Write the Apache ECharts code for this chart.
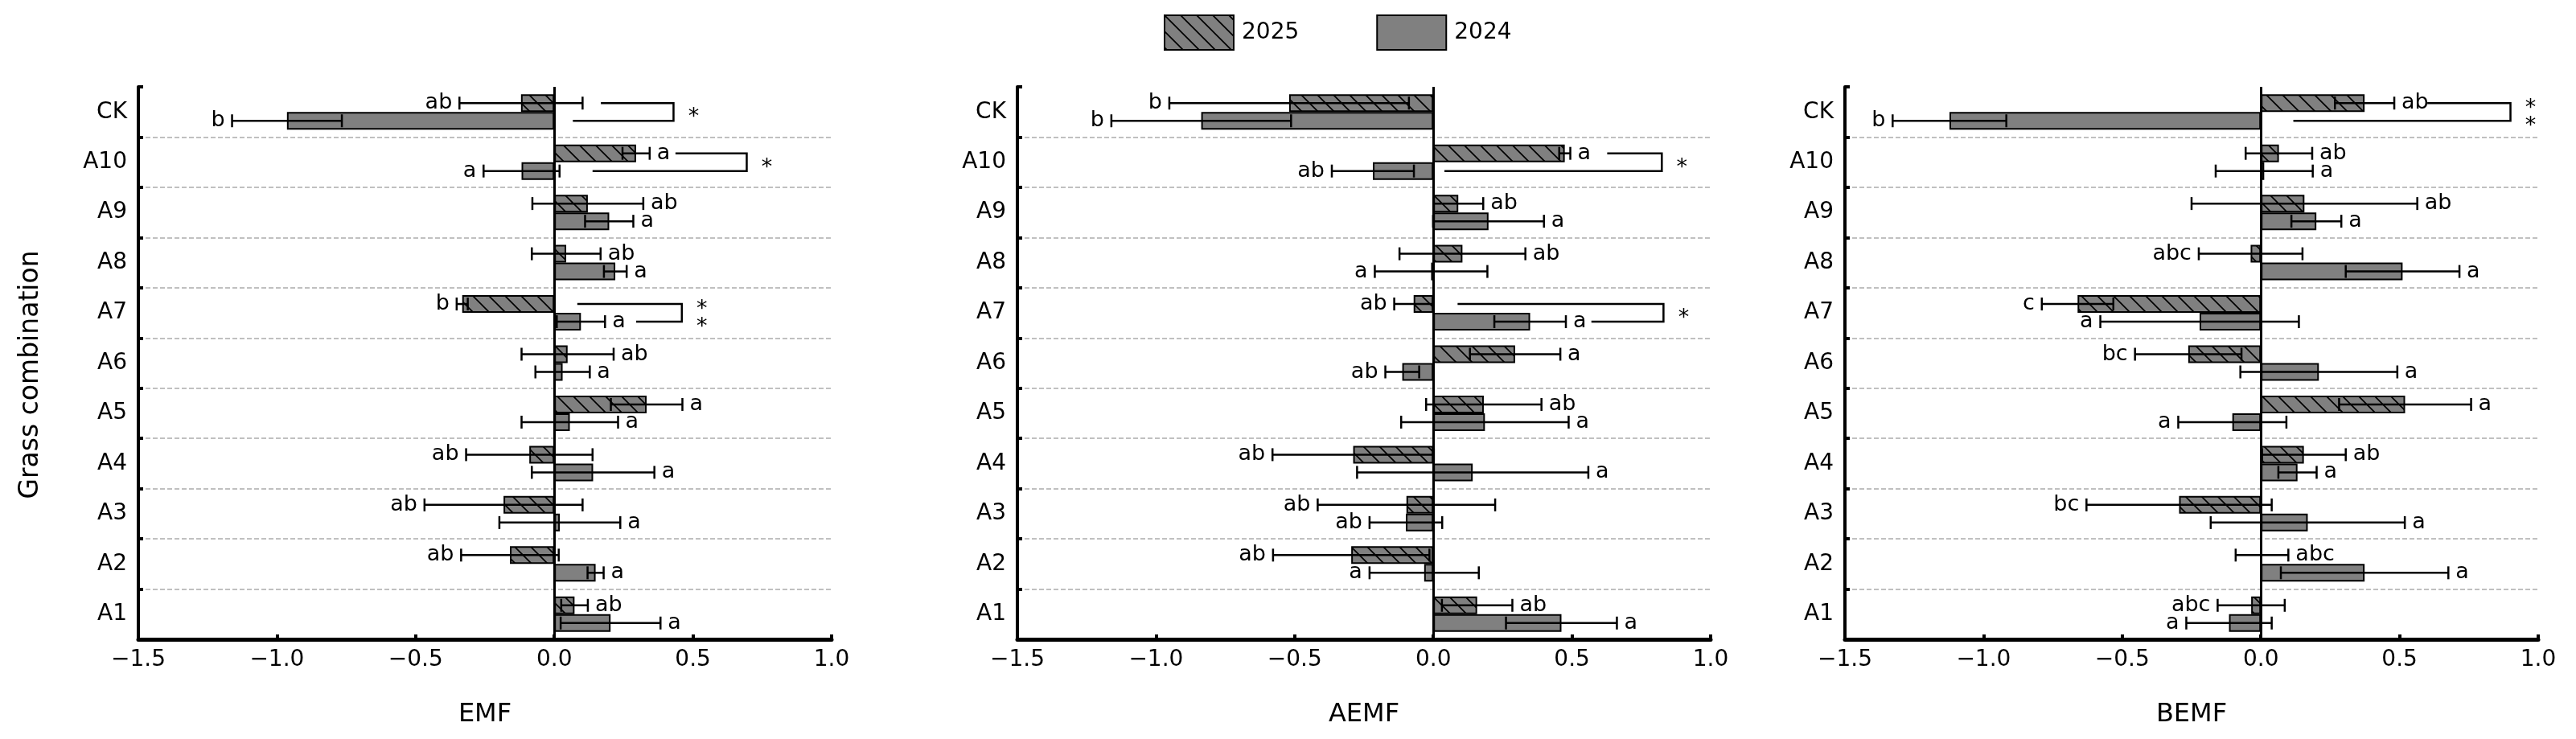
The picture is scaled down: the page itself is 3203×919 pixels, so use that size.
<!DOCTYPE html>
<html>
<head>
<meta charset="utf-8">
<script src="https://cdn.jsdelivr.net/npm/echarts@6/dist/echarts.min.js"></script>
<style>
html,body{margin:0;padding:0;background:#fff;}
#main{width:3203px;height:919px;}
</style>
</head>
<body>
<div id="main"></div>
<script>
// categories, top to bottom
var categories = ['CK','A10','A9','A8','A7','A6','A5','A4','A3','A2','A1'];
var years = ['2025','2024'];
var axisNames = ['EMF','AEMF','BEMF'];
var xMin = -1.5, xMax = 1.0, xStep = 0.5;

// EMF
var emf2025    = [-0.12, 0.295, 0.121, 0.043, -0.332, 0.048, 0.333, -0.09, -0.183, -0.16, 0.073];
var emf2025Err = [0.222, 0.049, 0.2, 0.124, 0.02, 0.166, 0.129, 0.228, 0.285, 0.176, 0.048];
var emf2025Sig = ['ab','a','ab','ab','b','ab','a','ab','ab','ab','ab'];
var emf2024    = [-0.964, -0.118, 0.198, 0.22, 0.096, 0.03, 0.056, 0.14, 0.02, 0.149, 0.203];
var emf2024Err = [0.198, 0.137, 0.087, 0.041, 0.087, 0.098, 0.174, 0.221, 0.218, 0.029, 0.18];
var emf2024Sig = ['b','a','a','a','a','a','a','a','a','a','a'];
// [category, start of upper arm, start of lower arm, right side, mark]
var emfBrackets = [['CK',0.168,0.067,0.43,'*'],['A10',0.437,0.138,0.694,'*'],['A7',0.083,0.295,0.46,'**']];

// AEMF
var aemf2025    = [-0.52, 0.474, 0.09, 0.105, -0.071, 0.295, 0.182, -0.289, -0.097, -0.296, 0.158];
var aemf2025Err = [0.432, 0.02, 0.09, 0.227, 0.07, 0.163, 0.208, 0.291, 0.32, 0.282, 0.127];
var aemf2025Sig = ['b','a','ab','ab','ab','a','ab','ab','ab','ab','ab'];
var aemf2024    = [-0.837, -0.218, 0.199, -0.008, 0.349, -0.112, 0.186, 0.142, -0.099, -0.033, 0.462];
var aemf2024Err = [0.324, 0.148, 0.2, 0.203, 0.129, 0.061, 0.302, 0.417, 0.131, 0.197, 0.2];
var aemf2024Sig = ['b','ab','a','a','a','ab','a','a','ab','a','a'];
var aemfBrackets = [['A10',0.627,0.04,0.824,'*'],['A7',0.0875,0.57,0.83,'*']];

// BEMF
var bemf2025    = [0.374, 0.065, 0.157, -0.037, -0.661, -0.262, 0.52, 0.155, -0.295, 0.004, -0.035];
var bemf2025Err = [0.107, 0.12, 0.407, 0.187, 0.129, 0.192, 0.238, 0.151, 0.334, 0.095, 0.121];
var bemf2025Sig = ['ab','ab','ab','abc','c','bc','a','ab','bc','abc','abc'];
var bemf2024    = [-1.123, 0.012, 0.2, 0.511, -0.221, 0.209, -0.103, 0.132, 0.169, 0.374, -0.115];
var bemf2024Err = [0.205, 0.175, 0.09, 0.205, 0.358, 0.283, 0.195, 0.069, 0.35, 0.302, 0.154];
var bemf2024Sig = ['b','a','a','a','a','a','a','a','a','a','a'];
var bemfBrackets = [['CK',0.60,0.117,0.90,'**']];

var FONT = 'DejaVu Sans';
var GRAY = '#808080';
var BAR_W = 22;

var panels = [
	{left:172,  v25:emf2025,  e25:emf2025Err,  s25:emf2025Sig,  v24:emf2024,  e24:emf2024Err,  s24:emf2024Sig,  br:emfBrackets},
	{left:1265, v25:aemf2025, e25:aemf2025Err, s25:aemf2025Sig, v24:aemf2024, e24:aemf2024Err, s24:aemf2024Sig, br:aemfBrackets},
	{left:2294, v25:bemf2025, e25:bemf2025Err, s25:bemf2025Sig, v24:bemf2024, e24:bemf2024Err, s24:bemf2024Sig, br:bemfBrackets}
];

//斜线填充
function makeHatch(){
	var c = document.createElement('canvas');
	c.width = 20; c.height = 20;
	var ctx = c.getContext('2d');
	ctx.fillStyle = GRAY;
	ctx.fillRect(0,0,20,20);
	ctx.strokeStyle = '#000';
	ctx.lineWidth = 1.7;
	ctx.beginPath();
	ctx.moveTo(-2,-2); ctx.lineTo(22,22);
	ctx.moveTo(-2,18); ctx.lineTo(2,22);
	ctx.moveTo(18,-2); ctx.lineTo(22,2);
	ctx.stroke();
	return c;
}
var hatch = {image: makeHatch(), repeat: 'repeat'};

function fmtTick(v){
	return (v < 0 ? '\u2212' : '') + Math.abs(v).toFixed(1);
}

function errorSeries(idx, values, errs, sigs, dy){
	return {
		type: 'custom',
		xAxisIndex: idx,
		yAxisIndex: idx,
		z: 4,
		silent: true,
		data: values.map(function(v,i){ return [v, i, errs[i]]; }),
		encode: {x: 0, y: 1},
		renderItem: function(params, api){
			var v = api.value(0), cat = api.value(1), err = api.value(2);
			var lo = api.coord([v-err, cat]);
			var hi = api.coord([v+err, cat]);
			var y = lo[1] + dy;
			var sig = sigs[params.dataIndex];
			var pos = v >= 0;
			var line = {stroke:'#000', lineWidth:2.5};
			return {
				type: 'group',
				children: [
					{type:'line', shape:{x1:lo[0], y1:y, x2:hi[0], y2:y}, style:line},
					{type:'line', shape:{x1:lo[0], y1:y-8, x2:lo[0], y2:y+8}, style:line},
					{type:'line', shape:{x1:hi[0], y1:y-8, x2:hi[0], y2:y+8}, style:line},
					{type:'text', style:{
						text: sig,
						x: pos ? hi[0]+9 : lo[0]-9,
						y: y,
						align: pos ? 'left' : 'right',
						verticalAlign: 'middle',
						font: '27px "' + FONT + '"',
						fill: '#000'
					}}
				]
			};
		}
	};
}

function bracketSeries(idx, brackets){
	return {
		type: 'custom',
		xAxisIndex: idx,
		yAxisIndex: idx,
		z: 4,
		silent: true,
		data: brackets.map(function(b){ return [b[1], categories.indexOf(b[0]), b[2], b[3]]; }),
		encode: {x: 0, y: 1},
		renderItem: function(params, api){
			var cat = api.value(1);
			var top = api.coord([api.value(0), cat]);
			var bot = api.coord([api.value(2), cat]);
			var right = api.coord([api.value(3), cat]);
			var yc = top[1];
			var yT = yc - BAR_W/2, yB = yc + BAR_W/2;
			var mark = brackets[params.dataIndex][4];
			var children = [{
				type: 'polyline',
				shape: {points: [[top[0],yT],[right[0],yT],[right[0],yB],[bot[0],yB]]},
				style: {stroke:'#000', lineWidth:2.5, fill:null}
			}];
			var ys = mark.length > 1 ? [yT, yB] : [yc];
			ys.forEach(function(yy){
				children.push({type:'text', style:{
					text: '*', x: right[0]+25, y: yy+7,
					align: 'center', verticalAlign: 'middle',
					font: '27px "' + FONT + '"', fill: '#000'
				}});
			});
			return {type:'group', children: children};
		}
	};
}

var grids = [], xAxes = [], yAxes = [], series = [];
panels.forEach(function(p, i){
	grids.push({left: p.left, top: 108, width: 862, height: 687});
	xAxes.push({
		type: 'value', gridIndex: i,
		min: xMin, max: xMax, interval: xStep,
		name: axisNames[i], nameLocation: 'middle', nameGap: 78,
		nameTextStyle: {fontFamily: FONT, fontSize: 32, color: '#000'},
		axisLine: {show: true, onZero: false, lineStyle: {color: '#000', width: 5}},
		axisTick: {show: true, inside: true, length: 6, lineStyle: {color: '#000', width: 4}},
		axisLabel: {fontFamily: FONT, fontSize: 28, color: '#000', margin: 12, formatter: fmtTick},
		splitLine: {show: false}
	});
	yAxes.push({
		type: 'category', gridIndex: i, inverse: true,
		data: categories,
		axisLine: {show: true, onZero: false, lineStyle: {color: '#000', width: 4}},
		axisTick: {show: true, inside: true, length: 6, lineStyle: {color: '#000', width: 4}},
		axisLabel: {fontFamily: FONT, fontSize: 28, color: '#000', margin: 14},
		// no dashed line along the top edge
		splitLine: {show: true, interval: function(index){ return index !== 0; },
			lineStyle: {color: '#c0c0c0', width: 2, type: [6,3]}}
	});
	series.push({
		name: years[0], type: 'bar', xAxisIndex: i, yAxisIndex: i,
		data: p.v25, barWidth: BAR_W, barGap: '0%',
		itemStyle: {color: hatch, borderColor: '#000', borderWidth: 2},
		markLine: {
			silent: true, symbol: 'none', label: {show: false},
			lineStyle: {color: '#000', width: 3, type: 'solid'},
			data: [{xAxis: 0}]
		}
	});
	series.push({
		name: years[1], type: 'bar', xAxisIndex: i, yAxisIndex: i,
		data: p.v24, barWidth: BAR_W, barGap: '0%',
		itemStyle: {color: GRAY, borderColor: '#000', borderWidth: 2}
	});
	series.push(errorSeries(i, p.v25, p.e25, p.s25, -BAR_W/2));
	series.push(errorSeries(i, p.v24, p.e24, p.s24, BAR_W/2));
	series.push(bracketSeries(i, p.br));
});

var myChart = echarts.init(document.getElementById('main'));
myChart.setOption({
	animation: false,
	backgroundColor: '#fff',
	legend: {
		data: years, left: 1442, top: 13,
		itemWidth: 86, itemHeight: 43, itemGap: 96,
		icon: 'rect',
		textStyle: {fontFamily: FONT, fontSize: 28, color: '#000', padding: [0,0,0,5]}
	},
	graphic: [{
		type: 'text', x: 38, y: 466, rotation: Math.PI/2,
		style: {text: 'Grass combination', font: '33px "' + FONT + '"', fill: '#000', align: 'center', verticalAlign: 'middle'}
	}],
	grid: grids,
	xAxis: xAxes,
	yAxis: yAxes,
	series: series
});
</script>
</body>
</html>
